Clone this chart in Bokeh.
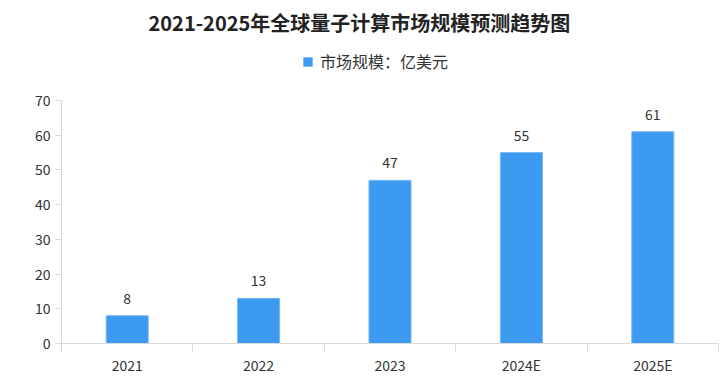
from bokeh.plotting import figure
from bokeh.models import (ColumnDataSource, Range1d, FixedTicker, Legend, LegendItem, Title)
from bokeh.layouts import column
from bokeh.embed import file_html
from bokeh.resources import INLINE

title_text = "2021-2025年全球量子计算市场规模预测趋势图"
series_name = "市场规模：亿美元"
years = ["2021", "2022", "2023", "2024E", "2025E"]
values = [8, 13, 47, 55, 61]
y_ticks = [0, 10, 20, 30, 40, 50, 60, 70]

FONT = "Noto Sans CJK SC"
BAR = "#3c9af0"
BAR_LINE = "#7ab8f5"
TXT = "#333333"
AX = "#d9d9d9"
W = 724

centers = [i + 0.5 for i in range(len(years))]
bounds = list(range(len(years) + 1))
src = ColumnDataSource(dict(x=centers, value=values, label=[str(v) for v in values]))

# ---- header: title + legend ----
header = figure(width=W, height=80, output_backend="svg", toolbar_location=None,
                x_range=Range1d(0, 1), y_range=Range1d(0, 1),
                x_axis_location=None, y_axis_location=None,
                min_border_left=0, min_border_right=0, min_border_bottom=0, min_border_top=32)
header.outline_line_color = None
header.xgrid.grid_line_color = None
header.ygrid.grid_line_color = None
# legend swatch renderer, placed outside the header's visible range
dummy = header.vbar(x=[-10], top=[-5], bottom=[-6], width=0.3, fill_color=BAR, line_color=BAR_LINE)
legend = Legend(items=[LegendItem(label=series_name, renderers=[dummy])], orientation="horizontal",
                location=(241, 7), glyph_width=11, glyph_height=11, label_text_font=FONT,
                label_text_font_size="16px", label_text_color=TXT, border_line_color=None,
                background_fill_alpha=0, padding=0, margin=0, label_standoff=7)
header.add_layout(legend, "center")
t = Title(text=title_text, align="left", offset=87, text_font=FONT, text_font_size="20px",
          text_font_style="bold", text_color="#222222", standoff=10)
header.add_layout(t, "above")

# ---- main chart ----
p = figure(width=W, height=297, output_backend="svg", toolbar_location=None,
           x_range=Range1d(0, len(years)), y_range=Range1d(0, 70),
           min_border_left=61, min_border_right=6, min_border_bottom=34, min_border_top=20)
p.outline_line_color = None
p.xgrid.grid_line_color = None
p.ygrid.grid_line_color = None

p.vbar(x="x", top="value", width=0.32, source=src, fill_color=BAR, line_color=BAR_LINE, line_width=1)
p.text(x="x", y="value", text="label", source=src, text_align="center", text_baseline="bottom",
       y_offset=-12, text_font_size="14px", text_color=TXT, text_font={"value": FONT})

xa = p.xaxis[0]
xa.ticker = FixedTicker(ticks=centers, minor_ticks=bounds)
xa.major_label_overrides = {c: y for c, y in zip(centers, years)}
xa.major_tick_line_color = None
xa.major_tick_out = 0
xa.minor_tick_line_color = AX
xa.minor_tick_out = 8
xa.minor_tick_in = 0
xa.axis_line_color = AX
xa.major_label_standoff = 3
xa.major_label_text_font = FONT
xa.major_label_text_font_size = "14px"
xa.major_label_text_color = TXT

ya = p.yaxis[0]
ya.ticker = FixedTicker(ticks=y_ticks)
ya.minor_tick_line_color = None
ya.major_tick_line_color = AX
ya.major_tick_out = 6
ya.major_tick_in = 0
ya.axis_line_color = AX
ya.major_label_standoff = 5
ya.major_label_text_font = FONT
ya.major_label_text_font_size = "14px"
ya.major_label_text_color = TXT

layout = column(header, p, spacing=0)
open("out.html", "w").write(file_html(layout, INLINE))
